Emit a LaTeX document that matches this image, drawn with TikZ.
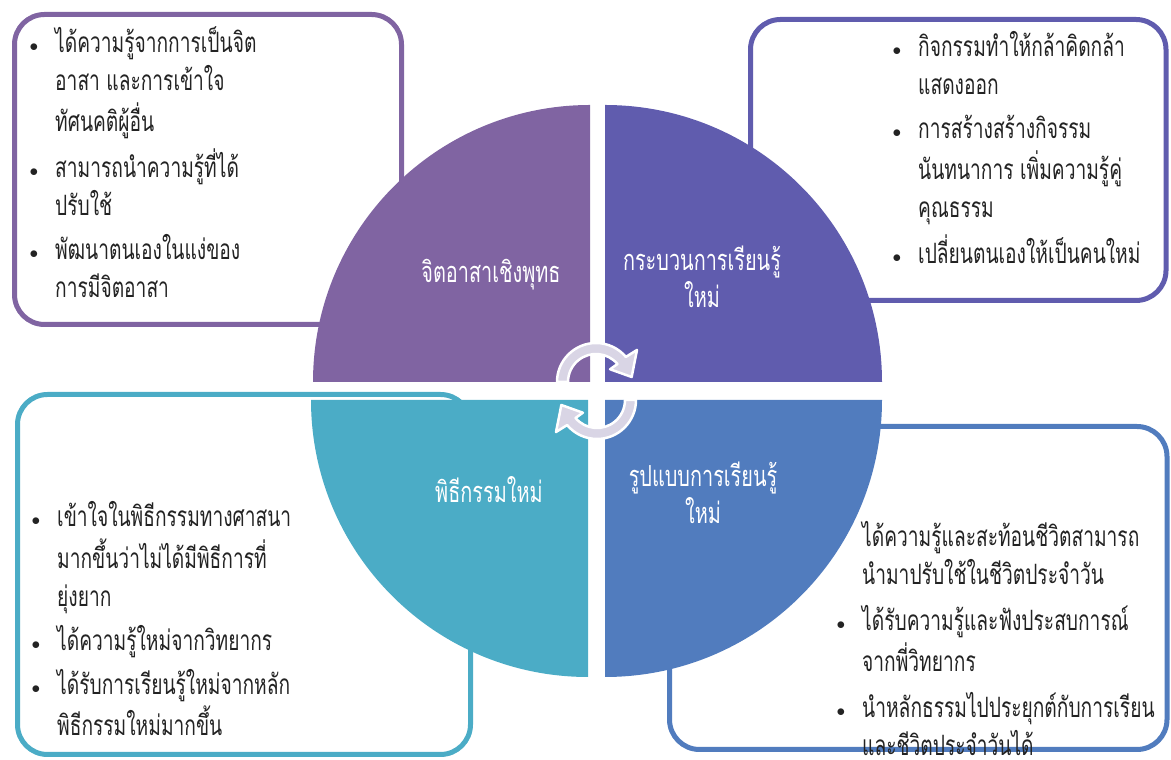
\documentclass[tikz,border=0pt]{standalone}
\usepackage{fontspec}
\newfontfamily\thaifont[Script=Thai,FakeStretch=0.685]{Loma}
\definecolor{qpurple}{RGB}{128,100,162}
\definecolor{qindigo}{RGB}{96,92,174}
\definecolor{qaqua}{RGB}{75,172,198}
\definecolor{qblue}{RGB}{81,124,190}
\definecolor{lav}{RGB}{217,213,229}
\definecolor{ink}{RGB}{35,35,35}
\newcommand\bul{\llap{\raisebox{1pt}{\fontsize{18}{18}\selectfont$\bullet$}\hspace{17pt}}}
\tikzset{
    infobox/.style={draw=#1, line width=5pt, rounded corners=30pt, fill=white},
    itemtext/.style={anchor=base west, inner sep=0pt, text=ink,
        font=\thaifont\fontsize{28}{38}\selectfont},
    quartertext/.style={anchor=base, inner sep=0pt, text=white,
        font=\thaifont\fontsize{29}{35}\selectfont},
    cyclearrow/.style={fill=lav, draw=white, line width=2.5pt, line join=round},
}
\begin{document}
\begin{tikzpicture}[x=1pt,y=1pt]
    \useasboundingbox (0,0) rectangle (1171,760);
    % text boxes
    \draw[infobox=qpurple] (14.5,435.5) rectangle (401.5,745.5);
    \draw[infobox=qindigo] (750.5,459.5) rectangle (1166,740.5);
    \draw[infobox=qaqua] (17.5,5.5) rectangle (470.5,365.5);
    \draw[infobox=qblue] (669.5,10.5) rectangle (1167,333.5);
    \node[itemtext] (tlitems) at (55,707) {\begin{tabular}[t]{@{}l@{}}
        \bul ได้ความรู้จากการเป็นจิต\\ อาสา และการเข้าใจ\\ ทัศนคติผู้อื่น\\[6pt]
        \bul สามารถนำความรู้ที่ได้\\ ปรับใช้\\[6pt]
        \bul พัฒนาตนเองในแง่ของ\\ การมีจิตอาสา
    \end{tabular}};
    \node[itemtext] (tritems) at (918,703) {\begin{tabular}[t]{@{}l@{}}
        \bul กิจกรรมทำให้กล้าคิดกล้า\\ แสดงออก\\[6pt]
        \bul การสร้างสร้างกิจรรม\\ นันทนาการ เพิ่มความรู้คู่\\ คุณธรรม\\[6pt]
        \bul เปลี่ยนตนเองให้เป็นคนใหม่
    \end{tabular}};
    \node[itemtext] (blitems) at (57,233) {\begin{tabular}[t]{@{}l@{}}
        \bul เข้าใจในพิธีกรรมทางศาสนา\\ มากขึ้นว่าไม่ได้มีพิธีการที่\\ ยุ่งยาก\\[6pt]
        \bul ได้ความรู้ใหม่จากวิทยากร\\[6pt]
        \bul ได้รับการเรียนรู้ใหม่จากหลัก\\ พิธีกรรมใหม่มากขึ้น
    \end{tabular}};
    \node[itemtext] (britems) at (862,213) {\begin{tabular}[t]{@{}l@{}}
        ได้ความรู้และสะท้อนชีวิตสามารถ\\ นำมาปรับใช้ในชีวิตประจำวัน\\[8pt]
        \bul ได้รับความรู้และฟังประสบการณ์\\ จากพี่วิทยากร\\[8pt]
        \bul นำหลักธรรมไปประยุกต์กับการเรียน\\ และชีวิตประจำวันได้
    \end{tabular}};
    % the four quarters
    \fill[qpurple] (590,378) -- (590,655) arc[start angle=90, end angle=180, radius=277] -- cycle;
    \fill[qindigo] (605,378) -- (882,378) arc[start angle=0, end angle=90, radius=277] -- cycle;
    \fill[qaqua] (588,360) -- (311,360) arc[start angle=180, end angle=270, radius=277] -- cycle;
    \fill[qblue] (605,360) -- (605,83) arc[start angle=270, end angle=360, radius=277] -- cycle;
    \node[quartertext] (mind) at (491,477) {จิตอาสาเชิงพุทธ};
    \node[quartertext] (process) at (702,489) {\begin{tabular}[t]{@{}c@{}}กระบวนการเรียนรู้\\ ใหม่\end{tabular}};
    \node[quartertext] (ritual) at (489,257) {พิธีกรรมใหม่};
    \node[quartertext] (pattern) at (703,273) {\begin{tabular}[t]{@{}c@{}}รูปแบบการเรียนรู้\\ ใหม่\end{tabular}};
    % cycle arrows
    \begin{scope}[shift={(596,378)}]
        \filldraw[cyclearrow] (180:39) arc[start angle=180, end angle=40, radius=39]
            -- (38:52) -- (8:36) -- (42:19) -- (40:28)
            arc[start angle=40, end angle=180, radius=28] -- cycle;
    \end{scope}
    \begin{scope}[shift={(597,360)}, rotate=180]
        \filldraw[cyclearrow] (180:39) arc[start angle=180, end angle=40, radius=39]
            -- (38:52) -- (8:36) -- (42:19) -- (40:28)
            arc[start angle=40, end angle=180, radius=28] -- cycle;
    \end{scope}
\end{tikzpicture}
\end{document}
